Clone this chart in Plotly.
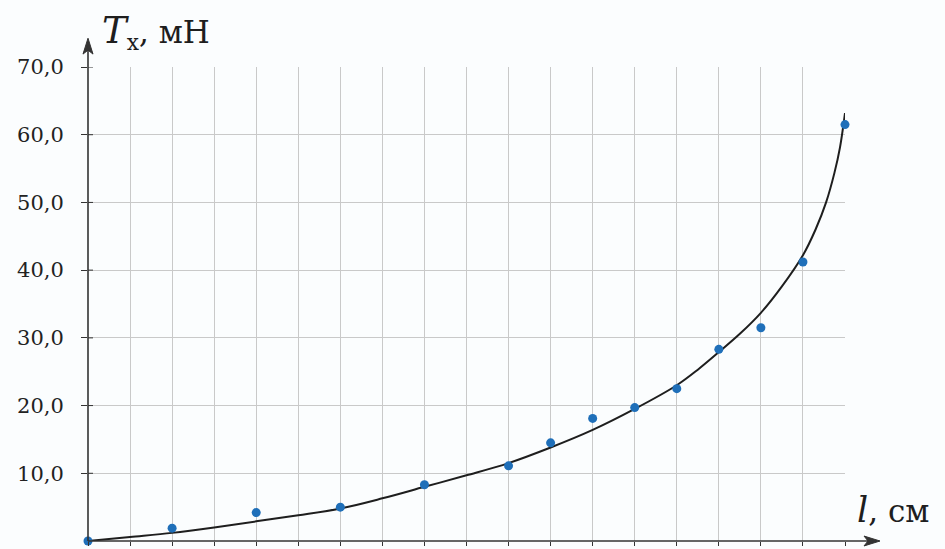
import plotly.graph_objects as go

# measured points (l in grid units, T in mN)
l_points = [0, 2, 4, 6, 8, 10, 11, 12, 13, 14, 15, 16, 17, 18]
T_points = [0.0, 1.9, 4.2, 5.0, 8.3, 11.1, 14.5, 18.1, 19.7, 22.5, 28.3, 31.5, 41.2, 61.5]

# fitted curve
l_curve = [0, 1, 2, 3, 4, 5, 6, 7, 8, 9, 10, 11, 12, 13, 14, 14.5, 15, 15.5, 16, 16.5, 17, 17.3, 17.55, 17.75, 17.88, 18]
T_curve = [0, 0.6, 1.2, 2.0, 2.9, 3.8, 4.8, 6.3, 8.0, 9.7, 11.5, 13.8, 16.4, 19.5, 23.0, 25.3, 27.9, 30.6, 33.7, 37.6, 42.2, 46.0, 50.0, 54.4, 58.1, 63.2]

y_ticks = [10, 20, 30, 40, 50, 60, 70]
x_ticks = list(range(0, 19))

FONT = "DejaVu Serif"
AX = "#333333"
GRID = "#c9c9c9"

# plot-area size in pixels (for arrowhead geometry in paper units)
W, H = 945, 549
ML, MR, MT, MB = 88, 100, 67, 4
PW, PH = W - ML - MR, H - MT - MB

fig = go.Figure()
fig.add_trace(go.Scatter(x=l_curve, y=T_curve, mode="lines",
                         line=dict(color="#1e1e1e", width=2, shape="spline", smoothing=1.0),
                         hoverinfo="skip", cliponaxis=False))
fig.add_trace(go.Scatter(x=l_points, y=T_points, mode="markers",
                         marker=dict(color="#1f6fb9", size=9),
                         cliponaxis=False))

fig.update_layout(
    width=W, height=H,
    margin=dict(l=ML, r=MR, t=MT, b=MB),
    paper_bgcolor="#fbfdfe", plot_bgcolor="#fbfdfe",
    showlegend=False,
    separators=", ",
    xaxis=dict(range=[0, 18], tickvals=x_ticks, showticklabels=False,
               showgrid=True, gridcolor=GRID, gridwidth=1,
               zeroline=False, showline=False,
               ticks="outside", ticklen=4, tickcolor=AX),
    yaxis=dict(range=[0, 70], tickvals=y_ticks, tickformat=".1f",
               showgrid=True, gridcolor=GRID, gridwidth=1,
               zeroline=False, showline=False,
               ticks="outside", ticklen=6, tickcolor=AX, ticklabelstandoff=13,
               tickfont=dict(family=FONT, size=21, color="#222222")),
    font=dict(family=FONT),
)

# axes lines with arrowheads (paper coordinates)
y_tip = 1 + 29 / PH
x_tip = 1 + 35 / PW
fig.add_shape(type="line", xref="paper", yref="paper", x0=0, y0=0, x1=0, y1=y_tip - 10 / PH,
              line=dict(color=AX, width=1.6))
fig.add_shape(type="line", xref="paper", yref="paper", x0=0, y0=0, x1=x_tip - 10 / PW, y1=0,
              line=dict(color=AX, width=1.6))
fig.add_shape(type="path", xref="paper", yref="paper",
              path=f"M 0 {y_tip} L {-5/PW} {y_tip-16/PH} L 0 {y_tip-12/PH} L {5/PW} {y_tip-16/PH} Z",
              fillcolor=AX, line=dict(color=AX, width=1))
fig.add_shape(type="path", xref="paper", yref="paper",
              path=f"M {x_tip} 0 L {x_tip-16/PW} {5/PH} L {x_tip-12/PW} 0 L {x_tip-16/PW} {-5/PH} Z",
              fillcolor=AX, line=dict(color=AX, width=1))
# small tick marks on the inner side of the y axis (the reference ticks cross the axis)
for v in y_ticks:
    fig.add_shape(type="line", xref="paper", yref="y", x0=0, x1=5 / PW, y0=v, y1=v,
                  line=dict(color=AX, width=1))

# axis labels
fig.add_annotation(x=(100 - ML) / PW, y=(H - MB - 32) / PH, xref="paper", yref="paper",
                   text="<i><span style='font-size:37px'>T</span></i><sub>x</sub>, мН",
                   showarrow=False, xanchor="left", yanchor="middle",
                   font=dict(family=FONT, size=31, color="#1e1e1e"))
fig.add_annotation(x=(855 - ML) / PW, y=(H - MB - 514) / PH, xref="paper", yref="paper",
                   text="<i><span style='font-size:35px'>l</span></i>, см", showarrow=False,
                   xanchor="left", yanchor="middle",
                   font=dict(family=FONT, size=31, color="#1e1e1e"))

fig.write_html("out.html")
